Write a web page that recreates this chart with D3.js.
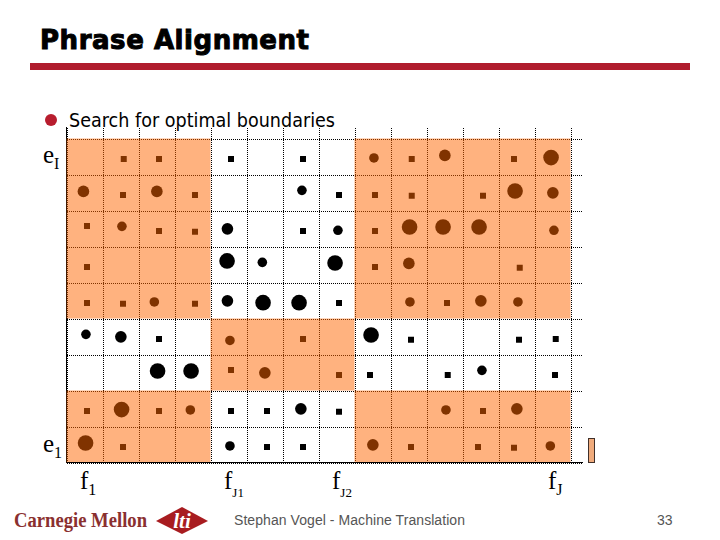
<!DOCTYPE html>
<html lang="en">
<head>
<meta charset="UTF-8">
<title>Phrase Alignment</title>
<script src="https://d3js.org/d3.v7.min.js"></script>
<style>
    html, body { margin: 0; padding: 0; background: #fff; }
    svg { display: block; }
    .grid line { stroke: #000; stroke-dasharray: 1 1; shape-rendering: crispEdges; }
    .grid path { display: none; }
</style>
</head>
<body>
<div id="chart"></div>
<script>
    // alignment points as [source position, target position], one list per strength
    const weakPoints = [
        [1.59,8.43],[2.57,8.43],[4.57,8.43],[6.57,8.43],[9.59,8.43],[12.43,8.43],
        [1.57,7.43],[3.57,7.43],[7.57,7.43],[8.57,7.43],[9.59,7.41],[11.57,7.41],
        [0.57,6.57],[2.57,6.43],[3.57,6.41],[6.57,6.43],[8.57,6.43],
        [0.57,5.43],[8.57,5.43],[12.59,5.41],
        [0.57,4.43],[1.57,4.41],[3.57,4.41],[7.57,4.43],[10.57,4.43],
        [2.57,3.43],[6.57,3.43],[9.57,3.41],[12.57,3.41],[13.59,3.43],
        [4.57,2.57],[7.57,2.43],[8.43,2.43],[10.59,2.43],[13.57,2.43],
        [0.57,1.43],[2.57,1.43],[4.57,1.43],[5.57,1.43],[7.57,1.41],[11.57,1.43],
        [1.57,0.43],[5.57,0.43],[6.57,0.43],[9.57,0.43],[11.43,0.43],[12.43,0.41]
    ];
    const mediumPoints = [
        [8.54,8.46],[6.54,7.56],[1.54,6.56],[7.54,6.45],[13.54,6.45],[5.44,5.56],
        [2.44,4.46],[9.54,4.46],[12.54,4.46],[0.54,3.56],[4.54,3.39],[11.54,2.56],
        [3.44,1.46],[10.54,1.46],[4.54,0.46],[13.44,0.46]
    ];
    const strongPoints = [
        [10.51,8.53],[0.47,7.53],[2.51,7.53],[13.51,7.49],[4.47,6.49],[9.51,5.53],
        [4.47,4.49],[11.51,4.49],[1.51,3.49],[5.51,2.49],[6.51,1.49],[12.51,1.49],[8.51,0.49]
    ];
    const topPoints = [
        [13.46,8.47],[12.46,7.54],[9.53,6.54],[10.46,6.54],[11.46,6.54],[4.46,5.6],[7.46,5.54],
        [5.46,4.44],[6.46,4.44],[8.46,3.54],[2.53,2.54],[3.46,2.54],[1.53,1.47],[0.53,0.54]
    ];

    // highlighted blocks as [j from, j to, i from, i to]
    const blocks = [
        [0,4,4,9],[8,14,4,9],[4,8,2,4],[0,4,0,2],[8,14,0,2]
    ];

    const jTicks = d3.range(0, 15);
    const iTicks = d3.range(0, 10);

    const width = 720, height = 540;
    const svg = d3.select("#chart").append("svg")
        .attr("width", width)
        .attr("height", height);

    const xScale = d3.scaleLinear().domain([0, 14.36]).range([66.5, 66.5 + 36 * 14.36]);
    const yScale = d3.scaleLinear().domain([0, 9.33]).range([462.5, 462.5 - 36 * 9.33]);

    // title and bullet
    svg.append("text")
        .attr("x", 40).attr("y", 49)
        .attr("font-family", "'DejaVu Sans', sans-serif")
        .attr("font-weight", "bold")
        .attr("font-size", 26)
        .attr("stroke", "#000").attr("stroke-width", 1)
        .attr("textLength", 269)
        .text("Phrase Alignment");

    svg.append("rect")
        .attr("x", 30).attr("y", 63)
        .attr("width", 660).attr("height", 7)
        .attr("fill", "#b01c2e");

    svg.append("circle")
        .attr("cx", 51).attr("cy", 120).attr("r", 6)
        .attr("fill", "#b81d2e");

    svg.append("text")
        .attr("x", 69).attr("y", 127)
        .attr("font-family", "'DejaVu Sans', sans-serif")
        .attr("font-size", 19)
        .attr("textLength", 266)
        .attr("lengthAdjust", "spacingAndGlyphs")
        .text("Search for optimal boundaries");

    // dotted grid
    svg.append("g")
        .attr("class", "grid")
        .attr("transform", `translate(0,${yScale(0)})`)
        .call(d3.axisBottom(xScale).tickValues(jTicks).tickSize(yScale(9.33) - yScale(0)).tickFormat(""));

    svg.append("g")
        .attr("class", "grid")
        .attr("transform", `translate(${xScale(0)},0)`)
        .call(d3.axisLeft(yScale).tickValues(iTicks).tickSize(xScale(0) - xScale(14.36)).tickFormat(""));

    // left axis goes under the highlight
    svg.append("line")
        .attr("x1", xScale(0)).attr("x2", xScale(0))
        .attr("y1", yScale(9.33)).attr("y2", yScale(0))
        .attr("stroke", "#000").attr("shape-rendering", "crispEdges");

    // points
    const dots = svg.append("g");

    dots.selectAll(".weak")
        .data(weakPoints)
        .join("path")
        .attr("class", "weak")
        .attr("d", d3.symbol(d3.symbolSquare, 36))
        .attr("transform", d => `translate(${xScale(d[0])},${yScale(d[1])})`);

    const pointSets = [[mediumPoints, 4.8], [strongPoints, 5.8], [topPoints, 7.8]];
    pointSets.forEach(([points, r]) => {
        dots.append("g").selectAll("circle")
            .data(points)
            .join("circle")
            .attr("cx", d => xScale(d[0]))
            .attr("cy", d => yScale(d[1]))
            .attr("r", r);
    });

    // half transparent orange, the grid and dots show through as brown
    svg.append("g").selectAll("rect")
        .data(blocks)
        .join("rect")
        .attr("x", d => xScale(d[0]))
        .attr("y", d => yScale(d[3]))
        .attr("width", d => xScale(d[1]) - xScale(d[0]))
        .attr("height", d => yScale(d[2]) - yScale(d[3]))
        .attr("fill", "#ff6600")
        .attr("fill-opacity", 0.5);

    svg.append("line")
        .attr("x1", xScale(0)).attr("x2", xScale(14.36))
        .attr("y1", yScale(0)).attr("y2", yScale(0))
        .attr("stroke", "#000").attr("shape-rendering", "crispEdges");

    // small key box right of the grid
    svg.append("rect")
        .attr("x", 588.5).attr("y", 438.5)
        .attr("width", 6).attr("height", 24)
        .attr("fill", "#f0ab7c").attr("stroke", "#40302a");

    // axis labels with subscripts
    const labels = [
        { base: "e", sub: "I", x: 43, y: 163 },
        { base: "e", sub: "1", x: 43, y: 452 },
        { base: "f", sub: "1", x: 80, y: 489 },
        { base: "f", sub: "J1", x: 224, y: 489, small: true },
        { base: "f", sub: "J2", x: 332, y: 489, small: true },
        { base: "f", sub: "J", x: 548, y: 489 }
    ];

    const labelText = svg.selectAll(".label")
        .data(labels)
        .join("text")
        .attr("class", "label")
        .attr("x", d => d.x)
        .attr("y", d => d.y)
        .attr("font-family", "'Liberation Serif', serif")
        .attr("font-size", 25);

    labelText.append("tspan").text(d => d.base);
    labelText.append("tspan")
        .attr("dy", d => d.small ? 8 : 6)
        .attr("font-size", d => d.small ? 13 : 16)
        .text(d => d.sub);

    // footer
    svg.append("text")
        .attr("x", 14).attr("y", 527)
        .attr("font-family", "'Liberation Serif', serif")
        .attr("font-weight", "bold")
        .attr("font-size", 20)
        .attr("fill", "#8a3030")
        .attr("textLength", 133)
        .attr("lengthAdjust", "spacingAndGlyphs")
        .text("Carnegie Mellon");

    svg.append("path")
        .attr("d", "M156,521 L182,507 L208,521 L182,534 Z")
        .attr("fill", "#a81c20");

    svg.append("text")
        .attr("x", 182).attr("y", 528)
        .attr("text-anchor", "middle")
        .attr("font-family", "'Liberation Serif', serif")
        .attr("font-style", "italic")
        .attr("font-weight", "bold")
        .attr("font-size", 21)
        .attr("fill", "#fff")
        .text("lti");

    svg.append("text")
        .attr("x", 234).attr("y", 525)
        .attr("font-family", "'Liberation Sans', sans-serif")
        .attr("font-size", 14)
        .attr("fill", "#555")
        .attr("textLength", 231)
        .text("Stephan Vogel - Machine Translation");

    svg.append("text")
        .attr("x", 657).attr("y", 525)
        .attr("font-family", "'Liberation Sans', sans-serif")
        .attr("font-size", 14)
        .attr("fill", "#555")
        .text("33");
</script>
</body>
</html>
